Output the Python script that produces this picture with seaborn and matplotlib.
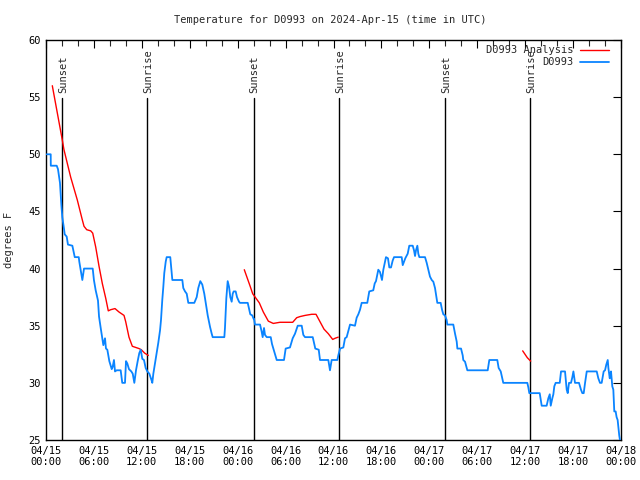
import numpy as np
import pandas as pd
import matplotlib
matplotlib.use("Agg")
import matplotlib.pyplot as plt
from matplotlib.lines import Line2D
import seaborn as sns

# ---- data (hours since 2024-04-15 00:00 UTC, degrees F) ----
obs_hours = [0.09, 0.59, 0.6, 1.34, 1.5, 1.75, 1.92, 2.04, 2.25, 2.34, 2.59, 2.75, 3.3, 3.6, 4.1, 4.17,
             4.55, 4.76, 5.85, 6.0, 6.22, 6.51, 6.64, 6.85, 7.18, 7.39, 7.51, 7.68, 7.93, 8.23, 8.35,
             8.51, 8.64, 8.85, 9.35, 9.55, 9.89, 10.02, 10.18, 10.39, 10.68, 10.86, 11.06, 11.27,
             11.48, 11.68, 11.86, 12.06, 12.27, 12.48, 12.69, 12.94, 13.23, 13.31, 13.44, 13.65,
             13.86, 14.06, 14.28, 14.4, 14.56, 14.69, 14.81, 14.99, 15.11, 15.56, 15.74, 15.82,
             17.07, 17.19, 17.41, 17.62, 17.82, 18.57, 18.87, 19.07, 19.32, 19.57, 19.82, 20.0,
             20.25, 20.54, 20.75, 20.87, 22.33, 22.41, 22.58, 22.75, 22.92, 23.08, 23.25, 23.38,
             23.5, 23.75, 23.92, 24.17, 24.29, 25.26, 25.42, 25.58, 25.83, 26.0, 26.05, 26.17,
             26.8, 27.0, 27.13, 27.3, 27.42, 27.64, 28.14, 28.3, 28.47, 28.68, 28.89, 29.8, 30.01,
             30.55, 30.89, 31.18, 31.52, 32.02, 32.22, 32.43, 33.4, 33.56, 33.72, 34.15, 34.31,
             35.35, 35.56, 35.77, 36.48, 36.6, 36.82, 37.23, 37.44, 37.65, 38.07, 38.69, 38.9,
             39.11, 39.32, 39.53, 40.23, 40.48, 40.98, 41.16, 41.32, 41.61, 41.82, 42.07, 42.24,
             42.45, 42.57, 42.82, 42.99, 43.2, 43.41, 43.58, 44.54, 44.67, 44.83, 44.99, 45.29,
             45.49, 45.92, 46.08, 46.21, 46.33, 46.5, 46.62, 46.75, 47.46, 47.67, 47.87, 48.08,
             48.3, 48.5, 48.71, 48.92, 49.0, 49.42, 49.59, 49.75, 49.96, 50.17, 50.25, 51.0,
             51.22, 51.43, 51.51, 51.97, 52.18, 52.25, 52.47, 52.68, 52.76, 55.31, 55.51, 56.51,
             56.68, 56.94, 57.19, 57.26, 60.27, 60.4, 60.52, 61.82, 62.07, 62.69, 62.9, 63.08,
             63.2, 63.4, 63.53, 63.65, 63.82, 64.33, 64.49, 64.99, 65.2, 65.33, 65.49, 65.74,
             65.91, 66.04, 66.24, 66.74, 66.99, 67.16, 67.33, 67.5, 67.71, 68.96, 69.16, 69.37,
             69.58, 69.71, 69.83, 70.0, 70.16, 70.34, 70.42, 70.59, 70.66, 70.75, 70.91, 71.04,
             71.16, 71.33, 71.45, 71.58, 71.66, 71.78, 71.87]
obs_temps = [50.0, 50.0, 49.0, 49.0, 48.7, 47.5, 45.6, 44.5, 43.5, 43.0, 42.8, 42.1, 42.0, 41.0, 41.0, 40.6,
             39.0, 40.0, 40.0, 39.0, 38.1, 37.2, 35.8, 34.8, 33.3, 33.9, 33.0, 32.9, 31.9, 31.2, 31.4,
             32.0, 31.0, 31.1, 31.1, 30.0, 30.0, 31.9, 31.7, 31.2, 31.0, 30.8, 30.0, 31.1,
             31.9, 32.6, 32.9, 32.1, 32.0, 31.3, 31.0, 30.8, 30.2, 30.0, 30.8, 31.7,
             32.6, 33.5, 34.6, 35.5, 37.25, 38.4, 39.6, 40.6, 41.0, 41.0, 39.6, 39.0,
             39.0, 38.3, 38.0, 37.8, 37.0, 37.0, 37.5, 38.3, 38.9, 38.6, 37.8, 37.0,
             35.9, 34.9, 34.3, 34.0, 34.0, 34.8, 37.4, 38.9, 38.4, 37.5, 37.1, 37.8,
             38.0, 38.0, 37.5, 37.1, 37.0, 37.0, 36.5, 36.0, 35.9, 35.6, 35.6, 35.1,
             35.1, 34.5, 34.0, 34.8, 34.2, 34.0, 34.0, 33.4, 33.0, 32.5, 32.0, 32.0, 33.0,
             33.1, 33.9, 34.3, 35.0, 35.0, 34.2, 34.0, 34.0, 33.5, 33.0, 32.9, 32.0,
             32.0, 31.1, 32.0, 32.0, 32.4, 33.0, 33.1, 33.9, 34.0, 35.1, 35.0, 35.7,
             36.0, 36.4, 37.0, 37.0, 38.0, 38.1, 38.7, 38.9, 39.9, 39.7, 39.0, 39.9,
             40.6, 41.0, 40.9, 40.1, 40.1, 40.7, 41.0, 41.0, 40.3, 40.6, 40.9, 41.3,
             42.0, 42.0, 41.6, 41.1, 41.6, 42.0, 41.3, 41.0, 41.0, 40.5, 39.9, 39.3,
             39.0, 38.85, 38.3, 37.4, 37.0, 37.0, 36.4, 36.0, 35.9, 35.5, 35.1, 35.1,
             34.3, 33.6, 33.0, 33.0, 32.4, 32.0, 31.85, 31.3, 31.1, 31.1, 32.0, 32.0,
             31.3, 31.0, 30.2, 30.0, 30.0, 29.6, 29.1, 29.1, 28.0, 28.0, 28.65, 29.0,
             28.0, 28.65, 29.0, 29.7, 30.0, 30.0, 31.0, 31.0, 29.4, 29.1, 30.0, 30.0,
             30.5, 31.0, 30.0, 30.0, 29.4, 29.1, 29.1, 30.0, 31.0, 31.0, 30.4, 30.0,
             30.0, 30.5, 31.0, 31.1, 31.6, 32.0, 31.3, 30.4, 30.7, 31.0, 29.7, 29.4,
             27.5, 27.5, 27.0, 26.75, 26.2, 25.4, 25.0]

ana_seg1_hours = [0.79, 2.04, 2.25, 3.09, 3.92, 4.55, 4.76, 5.1, 5.6, 5.85, 6.22, 6.64, 7.05, 7.48,
                  7.8, 8.1, 8.64, 9.14, 9.77, 9.98, 10.39, 10.81, 11.65, 11.93, 12.36, 12.81]
ana_seg1_temps = [56.0, 51.25, 50.4, 48.0, 46.0, 44.25, 43.7, 43.4, 43.3, 43.1, 41.9, 40.2, 38.7, 37.4,
                  36.3, 36.4, 36.5, 36.2, 35.9, 35.35, 34.0, 33.2, 33.0, 32.9, 32.6, 32.4]
ana_seg2_hours = [24.83, 25.54, 25.88, 26.71, 27.21, 27.84, 28.46, 29.3, 30.89, 31.39, 31.81, 32.43,
                  33.27, 33.81, 34.31, 34.81, 35.35, 35.9, 36.19, 36.6]
ana_seg2_temps = [39.9, 38.5, 37.8, 37.0, 36.2, 35.4, 35.2, 35.3, 35.3, 35.7, 35.8, 35.9,
                  36.0, 36.0, 35.35, 34.7, 34.3, 33.8, 33.9, 34.0]
ana_seg3_hours = [59.69, 60.27, 60.69]
ana_seg3_temps = [32.8, 32.2, 31.9]

event_hours = [2.05, 12.7, 26.0, 36.7, 50.0, 60.65]
event_labels = ["Sunset", "Sunrise", "Sunset", "Sunrise", "Sunset", "Sunrise"]

tick_hours = list(range(0, 73, 6))
tick_labels = ["04/15\n00:00", "04/15\n06:00", "04/15\n12:00", "04/15\n18:00",
               "04/16\n00:00", "04/16\n06:00", "04/16\n12:00", "04/16\n18:00",
               "04/17\n00:00", "04/17\n06:00", "04/17\n12:00", "04/17\n18:00",
               "04/18\n00:00"]
y_ticks = [25, 30, 35, 40, 45, 50, 55, 60]

title = "Temperature for D0993 on 2024-Apr-15 (time in UTC)"
obs_name = "D0993"
ana_name = "D0993 Analysis"

# ---- plotting ----
sns.set_style("white")
plt.rcParams["font.family"] = ["DejaVu Sans Mono"]
plt.rcParams["font.size"] = 7

BLUE = "#0a84ff"
RED = "#ff0000"

fig = plt.figure(figsize=(6.4, 4.8), dpi=100)
ax = fig.add_axes([46 / 640, 40 / 480, 575 / 640, 400 / 480])

obs_df = pd.DataFrame({"hours": obs_hours, "temp": obs_temps})
ana_df = pd.DataFrame({
    "hours": ana_seg1_hours + ana_seg2_hours + ana_seg3_hours,
    "temp": ana_seg1_temps + ana_seg2_temps + ana_seg3_temps,
    "seg": [1] * len(ana_seg1_hours) + [2] * len(ana_seg2_hours) + [3] * len(ana_seg3_hours),
})

sns.lineplot(data=ana_df, x="hours", y="temp", units="seg", estimator=None,
             color=RED, linewidth=1.0, ax=ax, zorder=3)
sns.lineplot(data=obs_df, x="hours", y="temp", estimator=None,
             color=BLUE, linewidth=1.3, ax=ax, zorder=4)

# sunrise/sunset markers
for h, lab in zip(event_hours, event_labels):
    ax.plot([h, h], [25, 54.95], color="black", linewidth=1.0, zorder=2)
    ax.text(h + 0.1, 55.4, lab, rotation=90, ha="center", va="bottom", fontsize=7.5)

ax.set_xlim(0, 72)
ax.set_ylim(25, 60)
ax.set_xticks(tick_hours)
ax.set_xticklabels(tick_labels)
ax.set_xticks(list(range(0, 73, 2)), minor=True)
ax.set_yticks(y_ticks)
ax.set_yticklabels([str(v) for v in y_ticks])
ax.tick_params(axis="both", which="major", direction="in", length=6, width=0.8,
               top=True, right=True, labelsize=7.5, pad=4, colors="black")
ax.tick_params(axis="x", which="minor", direction="in", length=4, width=0.8, top=True)
for s in ax.spines.values():
    s.set_visible(True)
    s.set_color("black")
    s.set_linewidth(1.0)

ax.set_xlabel("")
ax.set_ylabel("degrees F", fontsize=7.5, labelpad=10)
fig.text(330 / 640, 1 - 20 / 480, title, ha="center", va="center", fontsize=7.5)

handles = [Line2D([0], [0], color=RED, linewidth=1.0),
           Line2D([0], [0], color=BLUE, linewidth=1.3)]
leg = ax.legend(handles, [ana_name, obs_name], loc="upper right", frameon=False,
                markerfirst=False, fontsize=7.5, handlelength=2.8, handletextpad=0.6,
                borderaxespad=0.2, labelspacing=0.2,
                bbox_to_anchor=(1 - 6 / 575, 1 + 1 / 400))
for t in leg.get_texts():
    t.set_ha("right")

fig.savefig("out.png", dpi=100)
